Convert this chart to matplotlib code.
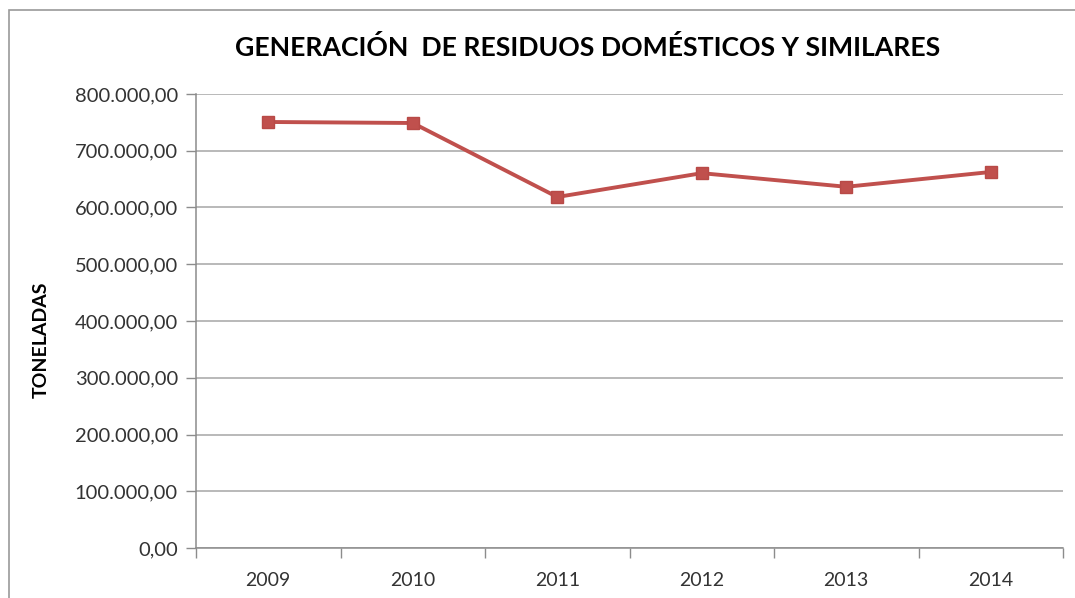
import numpy as np
import matplotlib
matplotlib.use("Agg")
import matplotlib.pyplot as plt
from matplotlib.ticker import FuncFormatter, FixedLocator
from matplotlib.patches import Rectangle

plt.rcParams['font.family'] = ['Lato', 'DejaVu Sans']

years = ['2009', '2010', '2011', '2012', '2013', '2014']
toneladas = [750700, 748900, 618500, 660500, 636500, 662600]

def fmt_es(v, pos):
    s = f"{v:,.2f}"
    return s.replace(',', 'X').replace('.', ',').replace('X', '.')

fig = plt.figure(figsize=(10.75, 5.98), dpi=100)
# marco exterior del grafico (cortado a la derecha y abajo)
fig.patches.append(Rectangle((9/1075, -0.1), 1.0, 1.1 - 10/598, transform=fig.transFigure,
                             fill=False, edgecolor='#9a9a9a', linewidth=1.2))

ax = fig.add_axes([196/1075, 1 - 548/598, (1063 - 196)/1075, (548 - 94)/598])
x = np.arange(len(years))
ax.plot(x, toneladas, color='#C0504D', linewidth=2.8, marker='s', markersize=9,
        markerfacecolor='#C0504D', markeredgecolor='#B84A47', zorder=3)

ax.set_xlim(-0.5, len(years) - 0.5)
ax.set_ylim(0, 800000)
ax.set_yticks(np.arange(0, 800001, 100000))
ax.yaxis.set_major_formatter(FuncFormatter(fmt_es))
ax.grid(axis='y', color='#a6a6a6', linewidth=1.1)
ax.set_axisbelow(True)

ax.set_xticks(x)
ax.set_xticklabels(years)
ax.xaxis.set_minor_locator(FixedLocator(np.arange(-0.5, len(years), 1.0)))
ax.tick_params(axis='x', which='major', length=0, pad=17, labelsize=14, labelcolor='#333333')
ax.tick_params(axis='x', which='minor', length=7, color='#8c8c8c', width=1)
ax.tick_params(axis='y', length=7, color='#8c8c8c', width=1, labelsize=14.5, labelcolor='#333333', pad=6)

for side in ['top', 'right']:
    ax.spines[side].set_visible(False)
for side in ['left', 'bottom']:
    ax.spines[side].set_color('#8c8c8c')
    ax.spines[side].set_linewidth(1.1)

fig.text(588/1075, 1 - 47/598, 'GENERACIÓN  DE RESIDUOS DOMÉSTICOS Y SIMILARES',
         ha='center', va='center', fontsize=19.2, fontweight='bold', color='black')
fig.text(41/1075, 1 - 340/598, 'TONELADAS', rotation=90, ha='center', va='center',
         fontsize=14, fontweight='bold', color='black')

fig.savefig('out.png', dpi=100)
